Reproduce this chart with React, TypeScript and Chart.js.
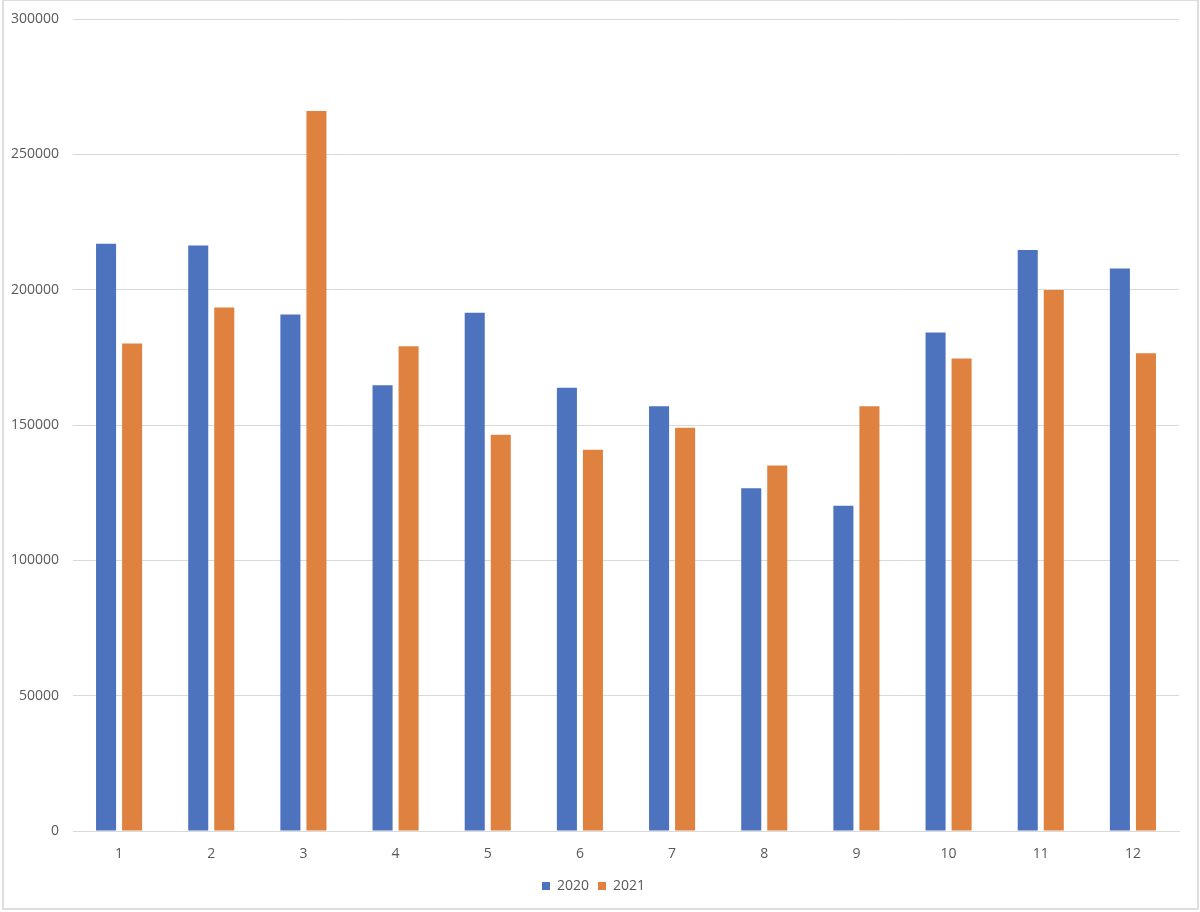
import React, { useEffect, useRef } from "react";
import { Chart, registerables } from "chart.js";

Chart.register(...registerables);

const categories = ["1", "2", "3", "4", "5", "6", "7", "8", "9", "10", "11", "12"];
const series2020 = [217000, 216300, 190800, 164700, 191500, 163800, 156900, 126600, 120200, 184200, 214700, 207800];
const series2021 = [180100, 193400, 266000, 179100, 146400, 140900, 149000, 135000, 156900, 174600, 199900, 176500];
const yMin = 0;
const yMax = 300000;
const yStep = 50000;

export default function App() {
  const ref = useRef<HTMLCanvasElement | null>(null);

  useEffect(() => {
    document.body.style.margin = "0";
    const canvas = ref.current;
    if (!canvas) return;
    const font = { family: "'Open Sans', 'Liberation Sans', sans-serif", size: 14 };
    const chart = new Chart(canvas, {
      type: "bar",
      data: {
        labels: categories,
        datasets: [
          {
            label: "2020",
            data: series2020,
            backgroundColor: "#4E73BE",
            borderWidth: 0,
            categoryPercentage: 0.565,
            barPercentage: 0.77,
          },
          {
            label: "2021",
            data: series2021,
            backgroundColor: "#E0823F",
            borderWidth: 0,
            categoryPercentage: 0.565,
            barPercentage: 0.77,
          },
        ],
      },
      options: {
        responsive: false,
        animation: false,
        layout: { padding: { left: 8, right: 21, top: 19, bottom: 9 } },
        plugins: {
          tooltip: { enabled: false },
          legend: {
            position: "bottom",
            labels: {
              boxWidth: 8,
              boxHeight: 8,
              padding: 9,
              color: "#595959",
              font,
            },
          },
        },
        scales: {
          x: {
            grid: { display: false, drawTicks: false },
            border: { display: true, color: "#d9d9d9", width: 1 },
            ticks: { color: "#595959", font, padding: 15 },
            afterFit: (scale: any) => {
              scale.height = 39;
            },
          },
          y: {
            min: yMin,
            max: yMax,
            grid: { color: "#d9d9d9", lineWidth: 1, drawTicks: false },
            border: { display: false },
            ticks: {
              stepSize: yStep,
              color: "#595959",
              font,
              padding: 14,
              callback: (v: any) => String(v),
            },
            afterFit: (scale: any) => {
              scale.width = 65;
              scale.paddingTop = 0;
              scale.paddingBottom = 0;
            },
          },
        },
      },
    });
    return () => chart.destroy();
  }, []);

  return (
    <div style={{ position: "absolute", left: 0, top: 0, width: 1200, height: 912, background: "#fff" }}>
      <canvas ref={ref} width={1200} height={912} style={{ display: "block" }} />
      <div
        style={{
          position: "absolute",
          left: 2,
          top: 0,
          width: 1193,
          height: 907,
          border: "2px solid #dedede",
          borderTop: "1px solid #dedede",
          pointerEvents: "none",
        }}
      />
    </div>
  );
}
